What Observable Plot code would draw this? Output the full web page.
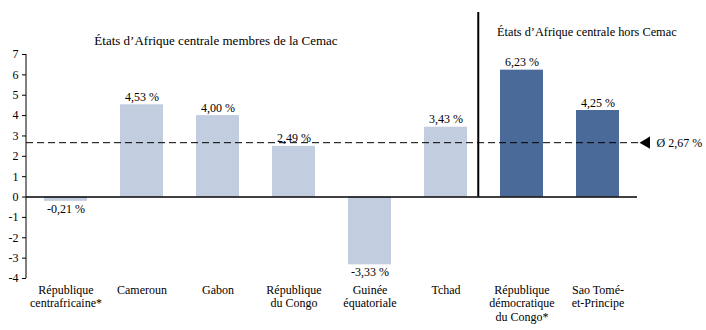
<!DOCTYPE html>
<html>
<head>
<meta charset="utf-8">
<script src="https://cdn.jsdelivr.net/npm/d3@7"></script>
<script src="https://cdn.jsdelivr.net/npm/@observablehq/plot@0.6"></script>
<style>
  html, body { margin: 0; padding: 0; background: #fff; }
</style>
</head>
<body>
<div id="chart"></div>
<script>
const categories = [
  "République\ncentrafricaine*",
  "Cameroun",
  "Gabon",
  "République\ndu Congo",
  "Guinée\néquatoriale",
  "Tchad",
  "République\ndémocratique\ndu Congo*",
  "Sao Tomé-\net-Principe"
];
const values = [-0.21, 4.53, 4.00, 2.49, -3.33, 3.43, 6.23, 4.25];
const groups = ["membres", "membres", "membres", "membres", "membres", "membres", "hors", "hors"];
const groupNames = ["membres", "hors"];
const groupTitles = ["États d’Afrique centrale membres de la Cemac", "États d’Afrique centrale hors Cemac"];
const average = 2.67;
const averageLabel = "Ø 2,67 %";
const yTicks = [-4, -3, -2, -1, 0, 1, 2, 3, 4, 5, 6, 7];

const data = categories.map((c, i) => ({cat: c, value: values[i], group: groups[i]}));
const fmt = v => v.toFixed(2).replace(".", ",") + " %";

function decor(index, scales, values, dims) {
  const x = scales.x, y = scales.y;
  const g = d3.create("svg:g").attr("stroke", "black").attr("fill", "none");
  // left axis line
  g.append("line")
    .attr("x1", dims.marginLeft).attr("x2", dims.marginLeft)
    .attr("y1", y(yTicks[yTicks.length - 1])).attr("y2", y(yTicks[0]));
  // group separator
  const xa = x(categories[5]), xb = x(categories[6]);
  const step = xb - xa, bw = step * (1 - 0.44);
  const sx = xa + bw + (step - bw) * 0.35;
  g.append("line")
    .attr("x1", sx).attr("x2", sx)
    .attr("y1", 12).attr("y2", y(0))
    .attr("stroke-width", 2);
  return g.node();
}

const chart = Plot.plot({
  width: 706,
  height: 330,
  marginTop: 54,
  marginBottom: 52,
  marginLeft: 26,
  marginRight: 69,
  style: {fontFamily: "'Liberation Serif', serif", fontSize: "12px", background: "#fff", color: "#000", overflow: "visible"},
  x: {domain: categories, paddingInner: 0.44, paddingOuter: 0.22, axis: null},
  y: {domain: [-4, 7], axis: null},
  color: {domain: groupNames, range: ["#c3cde0", "#4a6a99"]},
  marks: [
    Plot.barY(data, {x: "cat", y: "value", fill: "group"}),
    Plot.ruleY([0], {stroke: "black", strokeWidth: 1.5}),
    Plot.ruleY([average], {stroke: "black", strokeWidth: 1, strokeDasharray: "7,4", insetRight: -4}),
    Plot.axisY({ticks: yTicks, tickFormat: d => String(d), tickSize: 4, tickPadding: 4, label: null, fontSize: 12}),
    Plot.axisX({tickSize: 0, tickPadding: 6, label: null, fontSize: 12, lineHeight: 1.12}),
    decor,
    Plot.text(data.filter(d => d.value >= 0), {x: "cat", y: "value", text: d => fmt(d.value), lineAnchor: "bottom", dy: -4, fontSize: 12}),
    Plot.text(data.filter(d => d.value < 0), {x: "cat", y: "value", text: d => fmt(d.value), lineAnchor: "top", dy: 3, fontSize: 12}),
    Plot.dot([average], {y: d => d, frameAnchor: "right", symbol: "triangle", rotate: -90, r: 4.5, dx: 9, fill: "black", stroke: null}),
    Plot.text([averageLabel], {y: () => average, frameAnchor: "right", textAnchor: "start", dx: 19, fontSize: 12}),
    Plot.text([groupTitles[0]], {x: () => categories[2], frameAnchor: "top", dy: -19, dx: -2, fontSize: 13}),
    Plot.text([groupTitles[1]], {x: () => categories[6], frameAnchor: "top", dy: -27, textAnchor: "start", dx: -25, fontSize: 12.3})
  ]
});
document.getElementById("chart").appendChild(chart);
</script>
</body>
</html>
